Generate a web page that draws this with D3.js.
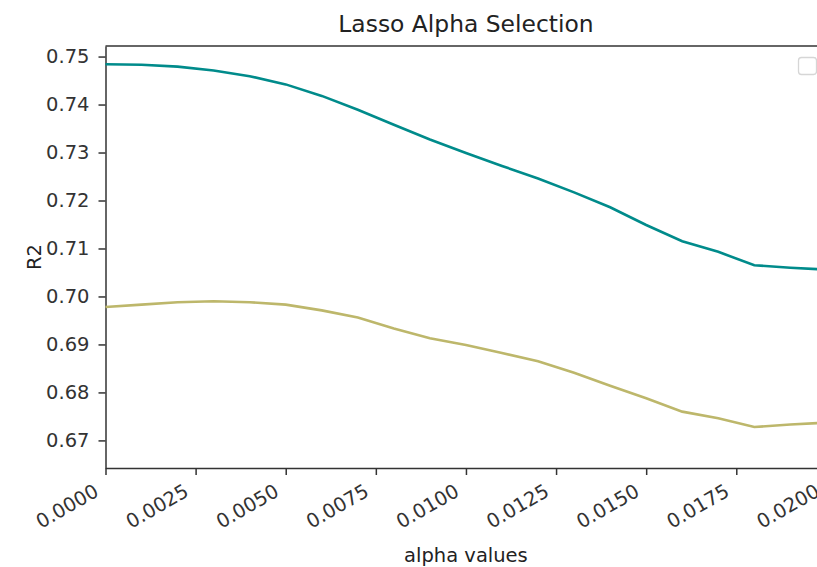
<!DOCTYPE html>
<html>
<head>
<meta charset="utf-8">
<script src="https://cdn.jsdelivr.net/npm/d3@7"></script>
<style>
body { margin: 0; background: #fff; }
svg { display: block; overflow: hidden; font-family: "DejaVu Sans", sans-serif; }
</style>
</head>
<body>
<svg width="817" height="567"></svg>
<script>
// alpha values tried and the R2 they gave
var alphas = [0, 0.001, 0.002, 0.003, 0.004, 0.005, 0.006, 0.007, 0.008, 0.009, 0.010,
	0.011, 0.012, 0.013, 0.014, 0.015, 0.016, 0.017, 0.018, 0.019, 0.020];

var trainR2 = [0.7484, 0.7483, 0.7479, 0.7471, 0.7459, 0.7442, 0.7418, 0.7389, 0.7358, 0.7327, 0.7299,
	0.7272, 0.7246, 0.7217, 0.7186, 0.7149, 0.7115, 0.7093, 0.7065, 0.7060, 0.7056];

var testR2 = [0.6978, 0.6983, 0.6988, 0.6990, 0.6988, 0.6983, 0.6971, 0.6956, 0.6933, 0.6913, 0.6899,
	0.6882, 0.6865, 0.6841, 0.6814, 0.6788, 0.6760, 0.6746, 0.6728, 0.6733, 0.6737];

var xTicks = [0, 0.0025, 0.005, 0.0075, 0.01, 0.0125, 0.015, 0.0175, 0.02];
var yTicks = [0.67, 0.68, 0.69, 0.70, 0.71, 0.72, 0.73, 0.74, 0.75];

var svg = d3.select("svg");

var plotLeft = 105.5, plotRight = 826.4, plotTop = 46, plotBottom = 468;

var x = d3.scaleLinear().domain([0, 0.02]).range([plotLeft, plotRight]);
var y = d3.scaleLinear().domain([0.66425, 0.7522]).range([plotBottom, plotTop]);

var tickColor = "#333";

// x axis
var xAxis = svg.append("g")
.attr("transform", "translate(0," + plotBottom + ")")
.call(d3.axisBottom(x).tickValues(xTicks).tickFormat(d3.format(".4f")).tickSize(7).tickSizeOuter(0));

xAxis.select(".domain").attr("stroke", tickColor).attr("stroke-width", 1.5);
xAxis.selectAll(".tick line").attr("stroke", tickColor).attr("stroke-width", 1.5);
xAxis.selectAll(".tick text")
.attr("fill", tickColor)
.attr("font-size", "19.5px")
.attr("font-family", "DejaVu Sans, sans-serif")
.attr("text-anchor", "end")
.attr("y", 0)
.attr("dy", 0)
.attr("transform", "translate(-6,27) rotate(-30)");

// y axis
var yAxis = svg.append("g")
.attr("transform", "translate(" + plotLeft + ",0)")
.call(d3.axisLeft(y).tickValues(yTicks).tickFormat(d3.format(".2f")).tickSize(7).tickPadding(9).tickSizeOuter(0));

yAxis.select(".domain").attr("stroke", tickColor).attr("stroke-width", 1.5);
yAxis.selectAll(".tick line").attr("stroke", tickColor).attr("stroke-width", 1.5);
yAxis.selectAll(".tick text")
.attr("fill", tickColor)
.attr("font-size", "19.5px")
.attr("font-family", "DejaVu Sans, sans-serif");

// top and right spines
svg.append("line")
.attr("x1", plotLeft).attr("x2", plotRight).attr("y1", plotTop).attr("y2", plotTop)
.attr("stroke", tickColor).attr("stroke-width", 1.5);
svg.append("line")
.attr("x1", plotRight).attr("x2", plotRight).attr("y1", plotTop).attr("y2", plotBottom)
.attr("stroke", tickColor).attr("stroke-width", 1.5);

// lines
var line = d3.line()
.x(function(d) { return x(d[0]); })
.y(function(d) { return y(d[1]); });

svg.append("path")
.datum(alphas.map(function(a, i) { return [a, trainR2[i]]; }))
.attr("fill", "none")
.attr("stroke", "darkcyan")
.attr("stroke-width", 2.6)
.attr("d", line);

svg.append("path")
.datum(alphas.map(function(a, i) { return [a, testR2[i]]; }))
.attr("fill", "none")
.attr("stroke", "darkkhaki")
.attr("stroke-width", 2.6)
.attr("d", line);

// empty legend frame
svg.append("rect")
.attr("x", 798.5).attr("y", 57.5)
.attr("width", 18).attr("height", 17)
.attr("rx", 3)
.attr("fill", "#fff")
.attr("stroke", "#d6d6d6")
.attr("stroke-width", 1.3);

// labels
svg.append("text")
.attr("x", (plotLeft + plotRight) / 2)
.attr("y", 32)
.attr("text-anchor", "middle")
.attr("font-size", "23.4px")
.attr("fill", "#222")
.text("Lasso Alpha Selection");

svg.append("text")
.attr("x", (plotLeft + plotRight) / 2)
.attr("y", 562)
.attr("text-anchor", "middle")
.attr("font-size", "19.5px")
.attr("fill", "#222")
.text("alpha values");

svg.append("text")
.attr("transform", "translate(41," + ((plotTop + plotBottom) / 2) + ") rotate(-90)")
.attr("text-anchor", "middle")
.attr("font-size", "19.5px")
.attr("fill", "#222")
.text("R2");
</script>
</body>
</html>
